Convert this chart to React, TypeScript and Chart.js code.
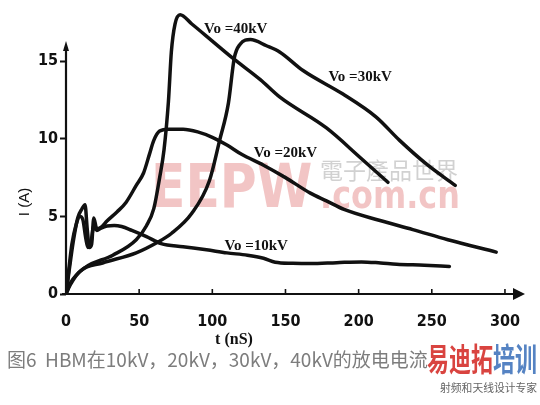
import React, { useEffect, useRef } from "react";
import { Chart, registerables } from "chart.js";

Chart.register(...registerables);

const xTicks = [0, 50, 100, 150, 200, 250, 300];
const yTicks = [0, 5, 10, 15];

const t10 = [0, 1.5, 4, 7, 9.5, 11.5, 13.5, 15, 17, 19, 21, 24, 28, 33, 38, 45, 55, 65, 80, 96, 110, 124, 135, 143, 155, 167, 185, 202, 215, 226, 245, 262];
const i10 = [0, 1.2, 3.2, 4.5, 5.0, 4.8, 3.6, 3.0, 3.3, 4.4, 4.1, 4.25, 4.38, 4.42, 4.35, 4.1, 3.7, 3.25, 3.05, 2.85, 2.65, 2.5, 2.3, 2.05, 1.98, 1.96, 2.02, 2.07, 2.0, 1.92, 1.86, 1.78];

const t20 = [0, 2, 5, 8, 11, 13, 14.5, 16, 17.5, 19, 21, 24, 28, 35, 41, 48, 53, 57, 60, 64, 70, 80, 90, 100, 110, 120, 135, 150, 167, 178, 190, 214, 237, 261, 294];
const i20 = [0, 1.4, 3.4, 4.9, 5.5, 5.75, 4.2, 3.0, 3.2, 4.9, 4.2, 4.3, 4.7, 5.3, 5.9, 7.0, 7.8, 9.0, 9.9, 10.5, 10.62, 10.62, 10.45, 10.1, 9.6, 9.0, 8.3, 7.5, 6.5, 6.0, 5.45, 4.75, 4.15, 3.5, 2.7];

const t30 = [0, 3, 10, 25, 48, 62, 72, 86, 98, 105, 111, 115, 119, 126, 137, 146, 162, 189, 212, 228, 246, 266];
const i30 = [0, 0.6, 1.5, 2.0, 2.65, 3.3, 3.9, 5.2, 7.3, 9.9, 12.3, 15.2, 16.1, 16.4, 16.0, 15.6, 14.4, 12.9, 11.4, 9.9, 8.4, 7.0];

const t40 = [0, 3, 13, 32, 48, 55, 60, 64, 67, 70, 72, 74.5, 78, 86, 100, 114, 133, 146, 178, 201, 220];
const i40 = [0, 0.7, 1.7, 2.5, 3.5, 4.4, 5.5, 7.5, 9.3, 12.4, 15.6, 17.4, 18.0, 17.4, 16.3, 15.2, 13.8, 12.7, 10.7, 8.8, 7.2];

const seriesNames = ["Vo =10kV", "Vo =20kV", "Vo =30kV", "Vo =40kV"];
const labelT = [130, 150, 201, 116];
const labelI = [3.1, 9.1, 14.0, 17.1];

const xTitle = "t (nS)";
const yTitle = "I (A)";
const caption = "图6  HBM在10kV，20kV，30kV，40kV的放电电流";
const wmBrand1 = "易迪拓";
const wmBrand2 = "培训";
const wmSub = "射频和天线设计专家";
const wmEepw = "EEPW";
const wmCom = ".com.cn";
const wmCn = "電子產品世界";

const X_MAX = 313.7;
const Y_MAX = 18.2;
const Y_AXIS_TOP = 16.3;

const tickFont = { family: "'DejaVu Sans Condensed', 'DejaVu Sans', sans-serif", size: 16, weight: "bold" as const };

const decor = {
  id: "decor",
  beforeDatasetsDraw(chart: any) {
    const ctx = chart.ctx as CanvasRenderingContext2D;
    ctx.save();
    ctx.fillStyle = "rgba(232,155,155,0.58)";
    ctx.textBaseline = "alphabetic";
    ctx.textAlign = "left";
    ctx.save();
    ctx.translate(151, 207);
    ctx.scale(0.84, 1);
    ctx.font = "bold 60px 'DejaVu Sans', sans-serif";
    ctx.fillText(wmEepw, 0, 0);
    ctx.restore();
    ctx.save();
    ctx.translate(320, 208);
    ctx.scale(0.84, 1);
    ctx.font = "bold 38px 'DejaVu Sans', sans-serif";
    ctx.fillText(wmCom, 0, 0);
    ctx.restore();
    ctx.fillStyle = "rgba(190,190,190,0.7)";
    ctx.font = "23px 'Noto Sans CJK TC', sans-serif";
    ctx.fillText(wmCn, 320, 179);
    ctx.restore();
  },
  afterDraw(chart: any) {
    const ctx = chart.ctx as CanvasRenderingContext2D;
    const xs = chart.scales.x;
    const ys = chart.scales.y;
    const x0 = xs.getPixelForValue(0);
    const y0 = ys.getPixelForValue(0);
    const yTop = ys.getPixelForValue(Y_AXIS_TOP);
    const xEnd = xs.getPixelForValue(X_MAX);
    ctx.save();
    ctx.strokeStyle = "#111";
    ctx.fillStyle = "#111";
    ctx.lineWidth = 2.2;
    // y axis
    ctx.beginPath();
    ctx.moveTo(x0, y0 + 1);
    ctx.lineTo(x0, yTop + 6);
    ctx.stroke();
    ctx.beginPath();
    ctx.moveTo(x0, yTop);
    ctx.lineTo(x0 - 3, yTop + 10);
    ctx.lineTo(x0 + 3, yTop + 10);
    ctx.closePath();
    ctx.fill();
    // x axis
    ctx.beginPath();
    ctx.moveTo(x0 - 4, y0);
    ctx.lineTo(xEnd - 6, y0);
    ctx.stroke();
    ctx.beginPath();
    ctx.moveTo(xEnd, y0);
    ctx.lineTo(xEnd - 12, y0 - 6);
    ctx.lineTo(xEnd - 12, y0 + 6);
    ctx.closePath();
    ctx.fill();
    // x tick marks
    ctx.lineWidth = 1.6;
    xTicks.forEach((v) => {
      const px = xs.getPixelForValue(v);
      ctx.beginPath();
      ctx.moveTo(px, y0);
      ctx.lineTo(px, y0 - 5);
      ctx.stroke();
    });
    // series labels
    ctx.font = "bold 15px 'Liberation Serif', serif";
    ctx.textAlign = "center";
    ctx.textBaseline = "middle";
    seriesNames.forEach((n, k) => {
      ctx.fillText(n, xs.getPixelForValue(labelT[k]), ys.getPixelForValue(labelI[k]));
    });
    // axis titles
    ctx.font = "bold 16px 'Liberation Serif', serif";
    ctx.fillText(xTitle, 234, 340);
    ctx.save();
    ctx.translate(25, 202);
    ctx.rotate(-Math.PI / 2);
    ctx.font = "15px 'Liberation Sans', sans-serif";
    ctx.fillText(yTitle, 0, 0);
    ctx.restore();
    // caption
    ctx.textAlign = "left";
    ctx.fillStyle = "#7d7d7d";
    ctx.font = "19px 'Noto Sans CJK SC', sans-serif";
    ctx.fillText(caption, 7, 360);
    // bottom-right watermark
    ctx.save();
    ctx.translate(427, 359);
    ctx.scale(1, 1.45);
    ctx.font = "bold 22px 'Noto Sans CJK SC', sans-serif";
    ctx.textBaseline = "middle";
    ctx.fillStyle = "rgba(214,52,48,0.92)";
    ctx.fillText(wmBrand1, 0, 0);
    const w1 = ctx.measureText(wmBrand1).width;
    ctx.fillStyle = "rgba(70,120,190,0.92)";
    ctx.fillText(wmBrand2, w1, 0);
    ctx.restore();
    ctx.fillStyle = "#666";
    ctx.font = "10.8px 'Noto Sans CJK SC', sans-serif";
    ctx.textBaseline = "middle";
    ctx.fillText(wmSub, 440, 388);
    ctx.restore();
  },
};

function mk(ts: number[], is: number[]) {
  return ts.map((t, k) => ({ x: t, y: is[k] }));
}

export default function App() {
  const ref = useRef<HTMLCanvasElement>(null);
  useEffect(() => {
    if (!ref.current) return;
    const series = [mk(t10, i10), mk(t20, i20), mk(t30, i30), mk(t40, i40)];
    const chart = new Chart(ref.current, {
      type: "line",
      data: {
        datasets: series.map((d, k) => ({
          label: seriesNames[k],
          data: d,
          borderColor: "#111",
          borderWidth: 3.5,
          pointRadius: 0,
          cubicInterpolationMode: "monotone" as const,
          borderCapStyle: "round" as const,
          borderJoinStyle: "round" as const,
          fill: false,
        })),
      },
      options: {
        animation: false,
        responsive: false,
        devicePixelRatio: 1,
        layout: { padding: { left: 0, right: 15, top: 10, bottom: 66 } },
        plugins: { legend: { display: false }, tooltip: { enabled: false } },
        scales: {
          x: {
            type: "linear",
            min: 0,
            max: X_MAX,
            afterFit: (s: any) => { s.height = 45; },
            afterBuildTicks: (s: any) => { s.ticks = xTicks.map((v) => ({ value: v })); },
            grid: { display: false },
            border: { display: false },
            ticks: { color: "#111", font: tickFont, padding: 10, maxRotation: 0, autoSkip: false },
          },
          y: {
            type: "linear",
            min: 0,
            max: Y_MAX,
            afterFit: (s: any) => { s.width = 66; },
            afterBuildTicks: (s: any) => { s.ticks = yTicks.map((v) => ({ value: v })); },
            grid: { display: true, drawOnChartArea: false, drawTicks: true, tickLength: 6, tickColor: "#111", tickWidth: 2 },
            border: { display: false },
            ticks: { color: "#111", font: tickFont, padding: 2, autoSkip: false },
          },
        },
      },
      plugins: [decor],
    });
    return () => chart.destroy();
  }, []);
  return (
    <div style={{ position: "fixed", left: 0, top: 0, width: 540, height: 405, background: "#fff" }}>
      <canvas ref={ref} width={540} height={405} style={{ display: "block" }} />
    </div>
  );
}
